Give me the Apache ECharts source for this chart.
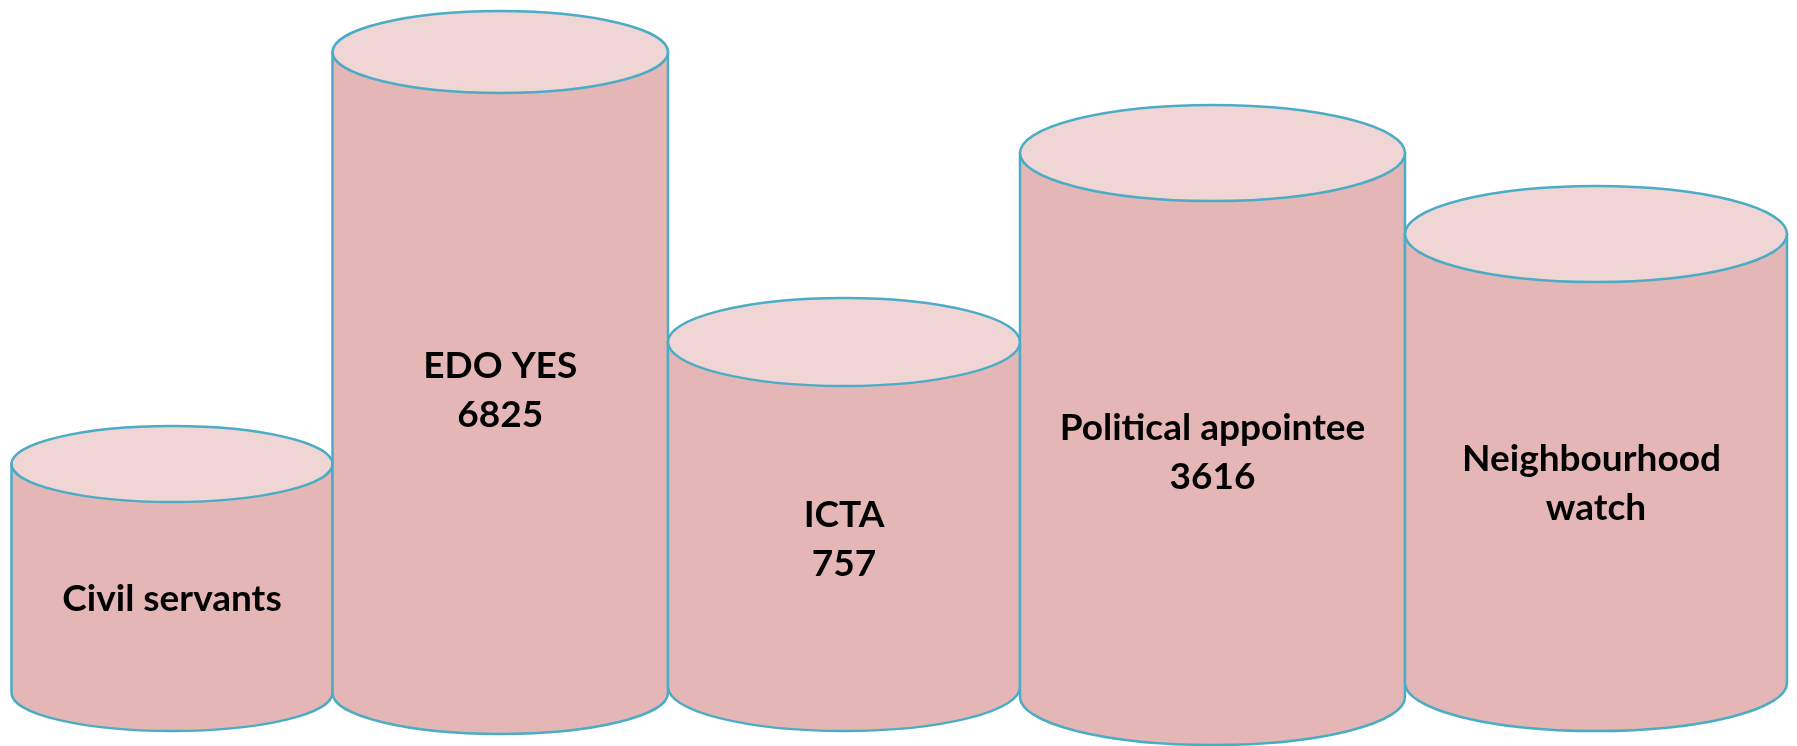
<!DOCTYPE html>
<html>
<head>
<meta charset="utf-8">
<script src="https://cdn.jsdelivr.net/npm/echarts@6/dist/echarts.min.js"></script>
<style>
  html, body { margin: 0; padding: 0; background: #fff; }
  #chart { width: 1797px; height: 746px; }
</style>
</head>
<body>
<div id="chart"></div>
<script>
// data
var categories = ['Civil servants', 'EDO YES', 'ICTA', 'Political appointee', 'Neighbourhood watch'];
var counts = [null, 6825, 757, 3616, null];
// height of each cylinder's top (centre of the lid), in chart units
var tops = [282, 694, 404, 593, 512];
// height of each cylinder's base (centre of the bottom ellipse)
var bases = [53, 53, 59, 49, 63];

// layout / style
var LEFT_START = 11.5;
var WIDTHS = [321, 335.5, 352, 385, 382];
var LID_RY = [38, 41, 44, 48, 48];
var TEXT_Y = [599, 391, 540, 453, 484];
var SIDE = '#e4b7b6';
var LID = '#f0d5d5';
var EDGE = '#4bacc6';

var myChart = echarts.init(document.getElementById('chart'));

function renderItem(params, api) {
    var i = api.value(0);
    var x0 = LEFT_START;
    for (var k = 0; k < i; k++) x0 += WIDTHS[k];
    var x1 = x0 + WIDTHS[i];
    var pTop0 = api.coord([x0, api.value(1)]);
    var pTop1 = api.coord([x1, api.value(1)]);
    var pBot0 = api.coord([x0, api.value(2)]);
    var pBot1 = api.coord([x1, api.value(2)]);
    var rx = (pTop1[0] - pTop0[0]) / 2;
    var ry = LID_RY[i];
    var cx = (pTop0[0] + pTop1[0]) / 2;

    // body: sides + lower half of base ellipse
    var body = 'M' + pTop0[0] + ' ' + pTop0[1] +
        ' L' + pBot0[0] + ' ' + pBot0[1] +
        ' A' + rx + ' ' + ry + ' 0 0 0 ' + pBot1[0] + ' ' + pBot1[1] +
        ' L' + pTop1[0] + ' ' + pTop1[1] + ' Z';
    // lid: full ellipse
    var lid = 'M' + pTop0[0] + ' ' + pTop0[1] +
        ' A' + rx + ' ' + ry + ' 0 0 0 ' + pTop1[0] + ' ' + pTop1[1] +
        ' A' + rx + ' ' + ry + ' 0 0 0 ' + pTop0[0] + ' ' + pTop0[1] + ' Z';

    var label = categories[i];
    if (counts[i] != null) label += '\n' + counts[i];

    return {
        type: 'group',
        children: [
            { type: 'path', shape: { pathData: body },
              style: { fill: SIDE, stroke: EDGE, lineWidth: 2.5 } },
            { type: 'path', shape: { pathData: lid },
              style: { fill: LID, stroke: EDGE, lineWidth: 2.5 } },
            { type: 'text', x: cx, y: TEXT_Y[i],
              style: { text: label, fill: '#000', align: 'center', verticalAlign: 'middle',
                       width: rx * 2 - 60, overflow: 'break',
                       font: 'bold 37px Lato, "Open Sans", sans-serif', lineHeight: 49 } }
        ]
    };
}

var option = {
    animation: false,
    grid: { left: 0, right: 0, top: 0, bottom: 0 },
    xAxis: { type: 'value', min: 0, max: 1797, show: false },
    yAxis: { type: 'value', min: 0, max: 746, show: false },
    series: [{
        type: 'custom',
        renderItem: renderItem,
        data: categories.map(function (c, i) { return [i, tops[i], bases[i]]; })
    }]
};
myChart.setOption(option);
</script>
</body>
</html>
